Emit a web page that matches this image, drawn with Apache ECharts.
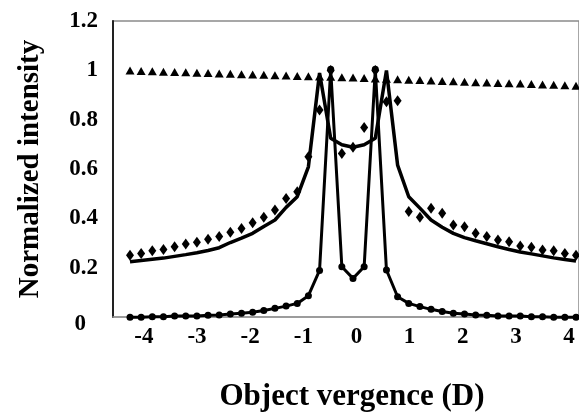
<!DOCTYPE html>
<html>
<head>
<meta charset="utf-8">
<script src="https://cdn.jsdelivr.net/npm/echarts@6/dist/echarts.min.js"></script>
<style>
html,body{margin:0;padding:0;background:#fff;}
#chart{width:579px;height:417px;}
</style>
</head>
<body>
<div id="chart"></div>
<script>
// Object vergence sample positions (D), 41 samples
var vergence = ['-4.0','-3.8','-3.6','-3.4','-3.2','-3.0','-2.8','-2.6','-2.4','-2.2','-2.0','-1.8','-1.6','-1.4','-1.2','-1.0','-0.8','-0.6','-0.4','-0.2','0.0','0.2','0.4','0.6','0.8','1.0','1.2','1.4','1.6','1.8','2.0','2.2','2.4','2.6','2.8','3.0','3.2','3.4','3.6','3.8','4.0'];
var xTickLabels = [-4,-3,-2,-1,0,1,2,3,4];
var yTickLabels = [0,0.2,0.4,0.6,0.8,1,1.2];

// triangles (markers only)
var triangles = [1.0,0.998,0.997,0.995,0.994,0.993,0.991,0.99,0.988,0.987,0.985,0.984,0.983,0.981,0.98,0.978,0.977,0.976,0.975,0.973,0.972,0.97,0.968,0.967,0.965,0.963,0.962,0.96,0.958,0.957,0.955,0.953,0.952,0.95,0.948,0.947,0.945,0.943,0.942,0.94,0.938];
// diamonds (markers only)
var diamonds = [0.254,0.261,0.272,0.277,0.288,0.299,0.306,0.318,0.329,0.346,0.362,0.385,0.407,0.436,0.483,0.51,0.652,0.84,1.0,0.665,0.69,0.77,1.0,0.874,0.878,0.43,0.407,0.443,0.423,0.376,0.369,0.342,0.329,0.315,0.308,0.291,0.286,0.275,0.272,0.261,0.254];
// solid model curve (line only)
var solidCurve = [0.227,0.232,0.237,0.242,0.249,0.256,0.264,0.273,0.284,0.305,0.323,0.342,0.37,0.396,0.447,0.49,0.611,0.99,0.726,0.7,0.69,0.7,0.726,1.0,0.618,0.49,0.444,0.396,0.367,0.342,0.325,0.312,0.3,0.288,0.277,0.267,0.259,0.251,0.243,0.236,0.23];
// narrow curve with circles
var circles = [0.003,0.003,0.005,0.005,0.008,0.008,0.008,0.011,0.012,0.016,0.019,0.023,0.03,0.039,0.048,0.059,0.09,0.192,1.005,0.207,0.16,0.207,1.005,0.194,0.086,0.059,0.046,0.035,0.026,0.019,0.016,0.012,0.011,0.008,0.008,0.008,0.005,0.005,0.003,0.003,0.003];

var serif = '"Liberation Serif","Times New Roman",serif';
var chart = echarts.init(document.getElementById('chart'));
chart.setOption({
  animation: false,
  backgroundColor: '#fff',
  grid: [
    {left: 113, right: -2, top: 21, bottom: 99, show: true, borderColor: '#8a8a8a', borderWidth: 1.5, backgroundColor: 'transparent'},
    {left: 130, right: 3, top: 21, bottom: 99}
  ],
  xAxis: [
    {
      gridIndex: 0, type: 'value', min: -4.581, max: 4.187,
      axisLine: {show: true, onZero: false, lineStyle: {color: '#999', width: 1.5}},
      axisTick: {show: false},
      splitLine: {show: false},
      axisLabel: {customValues: xTickLabels, margin: 9, color: '#000', fontFamily: serif, fontWeight: 'bold', fontSize: 23,
        formatter: function (v) { return String(v); }},
      name: 'Object vergence (D)', nameLocation: 'middle', nameGap: 64,
      nameTextStyle: {color: '#000', fontFamily: serif, fontWeight: 'bold', fontSize: 31, padding: [0, 0, 0, 12]}
    },
    {
      gridIndex: 1, type: 'category', data: vergence, boundaryGap: false, show: false
    }
  ],
  yAxis: [
    {
      gridIndex: 0, type: 'value', min: 0, max: 1.2, interval: 0.2,
      axisLine: {show: true, onZero: false, lineStyle: {color: '#222', width: 2}},
      axisTick: {show: false},
      splitLine: {show: false},
      axisLabel: {customValues: yTickLabels, margin: 15, color: '#000', fontFamily: serif, fontWeight: 'bold', fontSize: 23,
        formatter: function (v) { return v === 0 ? '{z|0}' : String(Math.round(v * 10) / 10); },
        rich: {z: {padding: [14, 12, 0, 0], fontFamily: serif, fontWeight: 'bold', fontSize: 23, color: '#000'}}},
      name: 'Normalized intensity', nameLocation: 'middle', nameGap: 68, nameRotate: 90,
      nameTextStyle: {color: '#000', fontFamily: serif, fontWeight: 'bold', fontSize: 29}
    },
    {gridIndex: 1, type: 'value', min: 0, max: 1.2, show: false}
  ],
  series: [
    {type: 'line', xAxisIndex: 1, yAxisIndex: 1, data: triangles, symbol: 'triangle', symbolSize: [9, 8], showSymbol: true, showAllSymbol: true,
      lineStyle: {width: 0, opacity: 0}, itemStyle: {color: '#000'}, clip: false},
    {type: 'line', xAxisIndex: 1, yAxisIndex: 1, data: diamonds, symbol: 'diamond', symbolSize: [8, 11], showSymbol: true, showAllSymbol: true,
      lineStyle: {width: 0, opacity: 0}, itemStyle: {color: '#000'}, clip: false},
    {type: 'line', xAxisIndex: 1, yAxisIndex: 1, data: solidCurve, symbol: 'none',
      lineStyle: {width: 3.5, color: '#000'}, clip: false},
    {type: 'line', xAxisIndex: 1, yAxisIndex: 1, data: circles, symbol: 'circle', symbolSize: 7, showSymbol: true, showAllSymbol: true,
      lineStyle: {width: 3, color: '#000'}, itemStyle: {color: '#000'}, clip: false}
  ]
});
</script>
</body>
</html>
